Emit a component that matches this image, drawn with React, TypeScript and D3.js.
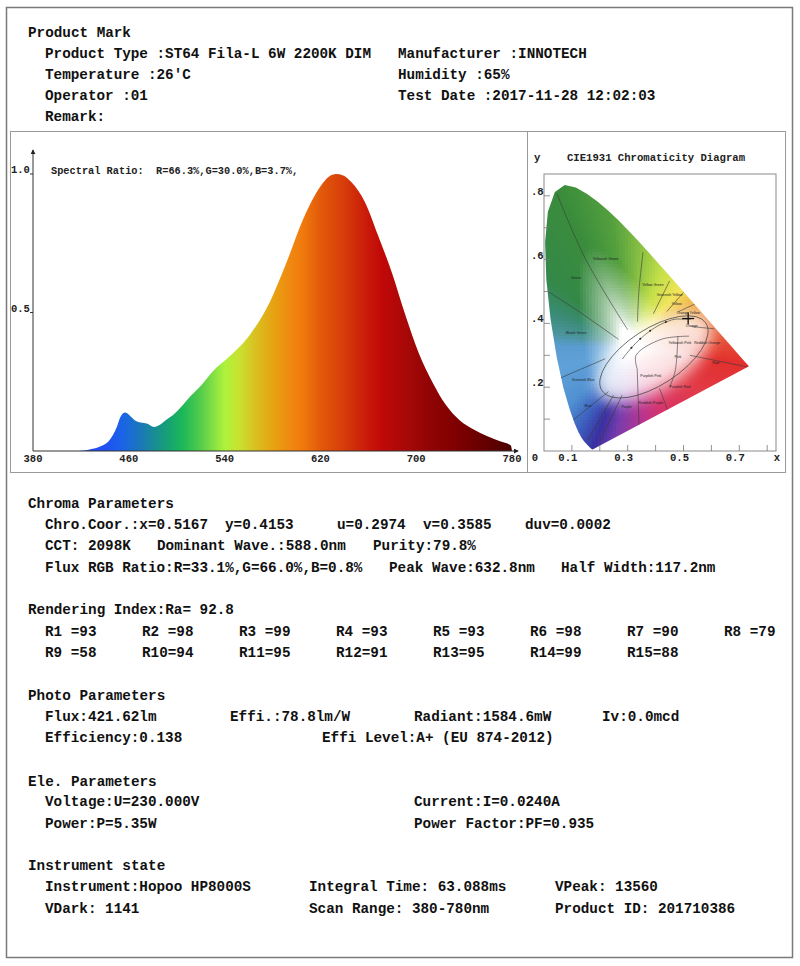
import React, { useMemo } from 'react';
import * as d3 from 'd3';

// ---------- spectrum data (relative intensity) ----------
const WAVELENGTHS = [380, 400, 418, 428, 436, 444, 450, 453, 457, 462, 466, 470, 475, 481, 486, 491, 497, 505, 512, 520, 530, 544, 561, 578, 592, 606, 620, 627, 633, 639, 646, 657, 668, 680, 691, 702, 714, 725, 736, 748, 759, 770, 779, 780];
const INTENSITY = [0, 0, 0, 0.006, 0.016, 0.04, 0.087, 0.123, 0.139, 0.123, 0.108, 0.103, 0.099, 0.087, 0.095, 0.112, 0.13, 0.165, 0.2, 0.235, 0.287, 0.341, 0.419, 0.54, 0.684, 0.841, 0.955, 0.99, 1.0, 0.995, 0.97, 0.9, 0.78, 0.64, 0.49, 0.355, 0.245, 0.165, 0.112, 0.078, 0.054, 0.035, 0.02, 0];
const X_TICKS = [380, 460, 540, 620, 700, 780];
const Y_TICKS = [0.5, 1.0];

const GRAD_WL = [380, 440, 455, 470, 480, 495, 505, 520, 540, 552, 565, 580, 595, 605, 620, 640, 660, 672, 690, 712, 735, 760, 780];
const GRAD_COLORS = ['#2a3cff', '#2050f4', '#1a64e6', '#1a78b8', '#188a98', '#16a66e', '#1cb858', '#54cc4c', '#aef23c', '#c8e230', '#d8c222', '#e6a412', '#f08810', '#f07a0e', '#e25a0a', '#d63c0a', '#c8180a', '#c00808', '#aa0808', '#900404', '#7e0000', '#620000', '#4a0000'];

// ---------- CIE 1931 data ----------
const LOCUS_X = [0.1741, 0.1714, 0.1644, 0.1566, 0.1440, 0.1355, 0.1241, 0.1096, 0.0913, 0.0687, 0.0454, 0.0235, 0.0082, 0.0039, 0.0139, 0.0389, 0.0743, 0.1142, 0.1547, 0.1929, 0.2296, 0.2658, 0.3016, 0.3373, 0.3731, 0.4087, 0.4441, 0.4788, 0.5125, 0.5448, 0.5752, 0.6029, 0.6270, 0.6658, 0.6915, 0.7190, 0.7300, 0.7347];
const LOCUS_Y = [0.0050, 0.0051, 0.0109, 0.0177, 0.0297, 0.0399, 0.0578, 0.0868, 0.1327, 0.2007, 0.2950, 0.4127, 0.5384, 0.6548, 0.7502, 0.8120, 0.8338, 0.8262, 0.8059, 0.7816, 0.7543, 0.7243, 0.6923, 0.6589, 0.6245, 0.5896, 0.5547, 0.5202, 0.4866, 0.4544, 0.4242, 0.3965, 0.3725, 0.3340, 0.3083, 0.2809, 0.2700, 0.2653];
const WHITE_POINT = [0.3127, 0.329];
// hue table of the diagram fill: angle (deg) around the white point -> colour
const HUE_ANGLES = [-180, -165, -140, -125, -113, -100, -80, -60, -30, -8, 10, 25, 45, 65, 80, 100, 118, 145, 160, 171, 180];
const HUE_COLORS = ['#5a9cd0', '#60a2d8', '#5090d2', '#3c5ebe', '#3a30a0', '#7a3cac', '#b8348e', '#d83468', '#e23a48', '#e2302e', '#e8643a', '#ee9a3c', '#f2e45a', '#c4e048', '#96c844', '#54a03e', '#3a8c3c', '#348848', '#3a8c78', '#4a9498', '#5a9cd0'];
const CIE_X_LABELS = [0.1, 0.3, 0.5, 0.7];
const CIE_Y_LABELS = [0.2, 0.4, 0.6, 0.8];
const CIE_TICKS = [0.1, 0.2, 0.3, 0.4, 0.5, 0.6, 0.7, 0.8];
const SAMPLE_XY = [0.5167, 0.4153];
const PLANCK_X = [0.2806, 0.3135, 0.3451, 0.3805, 0.4369, 0.4765, 0.5267];
const PLANCK_Y = [0.2883, 0.3237, 0.3516, 0.3768, 0.4041, 0.4137, 0.4133];
const KELLY_LINES: number[][][] = [
  [[0.046, 0.807], [0.15, 0.60], [0.30, 0.38]],
  [[0.355, 0.623], [0.34, 0.50], [0.335, 0.405]],
  [[0.45, 0.533], [0.392, 0.43]],
  [[0.50, 0.497], [0.44, 0.437]],
  [[0.554, 0.466], [0.48, 0.436]],
  [[0.61, 0.383], [0.53, 0.39]],
  [[0.002, 0.507], [0.12, 0.44], [0.267, 0.35]],
  [[0.054, 0.227], [0.219, 0.289]],
  [[0.097, 0.092], [0.231, 0.186]],
  [[0.158, 0.035], [0.249, 0.175]],
  [[0.2, 0.03], [0.28, 0.175]],
  [[0.341, 0.071], [0.334, 0.258]],
  [[0.45, 0.113], [0.414, 0.196]],
  [[0.523, 0.30], [0.737, 0.262]],
  [[0.334, 0.258], [0.33, 0.30], [0.42, 0.35], [0.52, 0.36]],
  [[0.48, 0.36], [0.47, 0.25], [0.45, 0.20]],
];
const KELLY_LABELS: [string, number, number][] = [
  ['Green', 0.115, 0.538], ['Yellowish Green', 0.22, 0.6], ['Yellow Green', 0.39, 0.517],
  ['Greenish Yellow', 0.45, 0.487], ['Yellow', 0.475, 0.457], ['Orange Yellow', 0.517, 0.43],
  ['Orange', 0.53, 0.388], ['Bluish Green', 0.115, 0.367], ['Yellowish Pink', 0.487, 0.336],
  ['Reddish Orange', 0.585, 0.336], ['Pink', 0.48, 0.29], ['Red', 0.615, 0.274],
  ['Greenish Blue', 0.14, 0.22], ['Purplish Pink', 0.383, 0.232], ['Purplish Red', 0.487, 0.198],
  ['Blue', 0.158, 0.139], ['Reddish Purple', 0.383, 0.147], ['Purple', 0.296, 0.136],
];

// ---------- report text ----------
const HEADER_ROWS: [string, string][] = [
  ['Product Type :ST64 Fila-L 6W 2200K DIM', 'Manufacturer :INNOTECH'],
  ["Temperature :26'C", 'Humidity :65%'],
  ['Operator :01', 'Test Date :2017-11-28 12:02:03'],
  ['Remark:', ''],
];
const CHROMA_ROW1 = ['Chro.Coor.:x=0.5167', 'y=0.4153', 'u=0.2974', 'v=0.3585', 'duv=0.0002'];
const CHROMA_ROW2 = ['CCT: 2098K', 'Dominant Wave.:588.0nm', 'Purity:79.8%'];
const CHROMA_ROW3 = ['Flux RGB Ratio:R=33.1%,G=66.0%,B=0.8%', 'Peak Wave:632.8nm', 'Half Width:117.2nm'];
const RA_VALUE = '92.8';
const R_VALUES = [93, 98, 99, 93, 93, 98, 90, 79, 58, 94, 95, 91, 95, 99, 88];
const PHOTO_ROW1 = ['Flux:421.62lm', 'Effi.:78.8lm/W', 'Radiant:1584.6mW', 'Iv:0.0mcd'];
const PHOTO_ROW2 = ['Efficiency:0.138', 'Effi Level:A+ (EU 874-2012)'];
const ELE_ROW1 = ['Voltage:U=230.000V', 'Current:I=0.0240A'];
const ELE_ROW2 = ['Power:P=5.35W', 'Power Factor:PF=0.935'];
const INST_ROW1 = ['Instrument:Hopoo HP8000S', 'Integral Time: 63.088ms', 'VPeak: 13560'];
const INST_ROW2 = ['VDark: 1141', 'Scan Range: 380-780nm', 'Product ID: 201710386'];
const SPECTRAL_RATIO = 'Spectral Ratio:  R=66.3%,G=30.0%,B=3.7%,';

const FONT = "'Liberation Mono', 'Courier New', monospace";

const hueInterp = (deg: number) => {
  let i = 0;
  while (i < HUE_ANGLES.length - 2 && deg > HUE_ANGLES[i + 1]) i++;
  const t = (deg - HUE_ANGLES[i]) / (HUE_ANGLES[i + 1] - HUE_ANGLES[i]);
  return d3.interpolateRgb(HUE_COLORS[i], HUE_COLORS[i + 1])(Math.max(0, Math.min(1, t)));
};

function edgeDistance(poly: number[][], ox: number, oy: number, dx: number, dy: number): number {
  let best = Infinity;
  for (let i = 0; i < poly.length; i++) {
    const [ax, ay] = poly[i];
    const [bx, by] = poly[(i + 1) % poly.length];
    const ex = bx - ax, ey = by - ay;
    const den = dx * ey - dy * ex;
    if (Math.abs(den) < 1e-12) continue;
    const s = ((ax - ox) * ey - (ay - oy) * ex) / den;
    const u = ((ax - ox) * dy - (ay - oy) * dx) / den;
    if (s > 0 && u >= 0 && u <= 1 && s < best) best = s;
  }
  return best;
}

function Row({ y, items, xs, size = 14.3 }: { y: number; items: string[]; xs: number[]; size?: number }) {
  return (
    <g>
      {items.map((t, i) => (
        <text key={i} x={xs[i]} y={y} fontFamily={FONT} fontWeight="bold" fontSize={size} fill="#111" style={{ whiteSpace: 'pre' }}>
          {t}
        </text>
      ))}
    </g>
  );
}

export default function App() {
  // spectrum scales
  const sx = d3.scaleLinear().domain([380, 780]).range([33, 512]);
  const sy = d3.scaleLinear().domain([0, 1]).range([451, 174]);
  const specData = WAVELENGTHS.map((w, i) => ({ w, v: INTENSITY[i] }));
  const area = d3.area<{ w: number; v: number }>()
    .x(d => sx(d.w)).y0(sy(0)).y1(d => sy(d.v)).curve(d3.curveMonotoneX);

  // CIE scales
  const cx = d3.scaleLinear().domain([0, 1]).range([544, 823]);
  const cy = d3.scaleLinear().domain([0, 1]).range([451, 132]);
  const locusXY = LOCUS_X.map((x, i) => [x, LOCUS_Y[i]]);
  const locus = locusXY.map(p => [cx(p[0]), cy(p[1])] as [number, number]);
  const locusPath = 'M' + locus.map(p => p.join(',')).join('L') + 'Z';

  const cells = useMemo(() => {
    const out: { x: number; y: number; c: string }[] = [];
    const step = 3;
    const [wx, wy] = WHITE_POINT;
    for (let px = 544; px < 752; px += step) {
      for (let py = 180; py < 452; py += step) {
        const xv = cx.invert(px + step / 2);
        const yv = cy.invert(py + step / 2);
        const inside = d3.polygonContains(locus, [px + step / 2, py + step / 2]) ||
          d3.polygonContains(locus, [px, py]) || d3.polygonContains(locus, [px + step, py + step]) ||
          d3.polygonContains(locus, [px + step, py]) || d3.polygonContains(locus, [px, py + step]);
        if (!inside) continue;
        const ddx = xv - wx, ddy = yv - wy;
        const d = Math.hypot(ddx, ddy) || 1e-6;
        const edge = edgeDistance(locusXY, wx, wy, ddx / d, ddy / d);
        const r = Math.min(1, d / edge);
        let t = Math.max(0, Math.min(1, (r - 0.12) / 0.5));
        t = Math.pow(t, 0.75);
        const deg = (Math.atan2(ddy, ddx) * 180) / Math.PI;
        const hue = hueInterp(deg);
        out.push({ x: px, y: py, c: d3.interpolateRgb('#ffffff', hue)(t) });
      }
    }
    return out;
  }, []);

  const line = d3.line<number[]>().x(d => cx(d[0])).y(d => cy(d[1])).curve(d3.curveCatmullRom);
  const planck = PLANCK_X.map((x, i) => [x, PLANCK_Y[i]]);

  const ellCx = cx(0.394), ellCy = cy(0.295);

  const rCols = [45, 142, 239, 336, 433, 530, 627, 724];

  return (
    <svg width={800} height={966} style={{ position: 'absolute', left: 0, top: 0, display: 'block', background: '#fff' }}>
      <defs>
        <linearGradient id="spec" gradientUnits="userSpaceOnUse" x1={sx(380)} x2={sx(780)} y1={0} y2={0}>
          {GRAD_WL.map((w, i) => (
            <stop key={i} offset={(w - 380) / 400} stopColor={GRAD_COLORS[i]} />
          ))}
        </linearGradient>
        <clipPath id="locusClip"><path d={locusPath} /></clipPath>
        <filter id="blur" x="-50%" y="-50%" width="200%" height="200%">
          <feGaussianBlur stdDeviation="8" />
        </filter>
        <marker id="arrow" viewBox="0 0 6 6" refX="5" refY="3" markerWidth="5" markerHeight="5" orient="auto">
          <path d="M0,0L6,3L0,6Z" fill="#222" />
        </marker>
      </defs>

      {/* outer frame */}
      <rect x={6.5} y={7.5} width={786} height={950} fill="none" stroke="#7a7a7a" strokeWidth={1.5} />

      {/* header */}
      <Row y={36.5} items={['Product Mark']} xs={[28]} />
      {HEADER_ROWS.map((r, i) => (
        <Row key={i} y={57.5 + i * 21.3} items={r} xs={[45, 398]} />
      ))}

      {/* chart panel */}
      <rect x={10.5} y={131.5} width={775} height={341} fill="none" stroke="#9a9a9a" strokeWidth={1} />
      <line x1={527.5} x2={527.5} y1={131.5} y2={472.5} stroke="#9a9a9a" strokeWidth={1} />

      {/* spectrum */}
      <path d={area(specData) || ''} fill="url(#spec)" />
      <line x1={sx(380)} x2={sx(380)} y1={sy(0)} y2={150} stroke="#333" strokeWidth={1} markerEnd="url(#arrow)" />
      <line x1={sx(380)} x2={518} y1={sy(0)} y2={sy(0)} stroke="#333" strokeWidth={1} markerEnd="url(#arrow)" />
      {Y_TICKS.map(t => (
        <g key={t}>
          <line x1={sx(380) - 3} x2={sx(380)} y1={sy(t)} y2={sy(t)} stroke="#333" />
          <text x={11} y={sy(t) - 1} fontFamily={FONT} fontWeight="bold" fontSize={10.5} fill="#222">{t.toFixed(1)}</text>
        </g>
      ))}
      {X_TICKS.map(t => (
        <text key={t} x={sx(t)} y={462} textAnchor="middle" fontFamily={FONT} fontWeight="bold" fontSize={10.5} fill="#222">{t}</text>
      ))}
      <text x={51} y={173.5} fontFamily={FONT} fontWeight="bold" fontSize={10.3} fill="#222" style={{ whiteSpace: 'pre' }}>{SPECTRAL_RATIO}</text>

      {/* CIE diagram */}
      <text x={534} y={161} fontFamily={FONT} fontWeight="bold" fontSize={10.6} fill="#222">y</text>
      <text x={656} y={161} textAnchor="middle" fontFamily={FONT} fontWeight="bold" fontSize={10.6} fill="#222">CIE1931 Chromaticity Diagram</text>
      <rect x={544} y={174} width={232} height={277} fill="#fff" stroke="#8a8a8a" strokeWidth={1} />
      <g clipPath="url(#locusClip)">
        {cells.map((c, i) => (
          <rect key={i} x={c.x} y={c.y} width={3.2} height={3.2} fill={c.c} shapeRendering="crispEdges" />
        ))}
        <ellipse cx={ellCx} cy={ellCy} rx={66} ry={32} transform={`rotate(-33 ${ellCx} ${ellCy})`} fill="#fff" opacity={0.8} filter="url(#blur)" />
        {KELLY_LINES.map((l, i) => (
          <path key={i} d={line(l) || ''} fill="none" stroke="#3a3a3a" strokeWidth={0.6} />
        ))}
        {KELLY_LABELS.map(([t, x, y], i) => (
          <text key={i} x={cx(x)} y={cy(y)} fontSize={3.6} fontFamily="Arial, sans-serif" fill="#222" textAnchor="middle">{t}</text>
        ))}
      </g>
      <ellipse cx={ellCx} cy={ellCy} rx={62} ry={28} transform={`rotate(-33 ${ellCx} ${ellCy})`} fill="none" stroke="#444" strokeWidth={0.7} />
      <path d={d3.line<number[]>().x(d => cx(d[0])).y(d => cy(d[1])).curve(d3.curveMonotoneX)(planck) || ''} fill="none" stroke="#333" strokeWidth={0.6} />
      {planck.slice(1, 5).map((p, i) => (
        <circle key={i} cx={cx(p[0])} cy={cy(p[1])} r={1} fill="#222" />
      ))}
      <g stroke="#111" strokeWidth={1.3}>
        <line x1={cx(SAMPLE_XY[0]) - 6} x2={cx(SAMPLE_XY[0]) + 6} y1={cy(SAMPLE_XY[1])} y2={cy(SAMPLE_XY[1])} />
        <line x1={cx(SAMPLE_XY[0])} x2={cx(SAMPLE_XY[0])} y1={cy(SAMPLE_XY[1]) - 6} y2={cy(SAMPLE_XY[1]) + 6} />
      </g>
      {CIE_TICKS.map(t => (
        <g key={t} stroke="#777" strokeWidth={0.8}>
          <line x1={cx(t)} x2={cx(t)} y1={451} y2={445} />
          <line x1={544} x2={550} y1={cy(t)} y2={cy(t)} />
        </g>
      ))}
      {CIE_X_LABELS.map(t => (
        <text key={t} x={cx(t) - 4} y={461} textAnchor="middle" fontFamily={FONT} fontWeight="bold" fontSize={10.6} fill="#222">{t.toFixed(1)}</text>
      ))}
      <text x={535} y={461} textAnchor="middle" fontFamily={FONT} fontWeight="bold" fontSize={10.6} fill="#222">0</text>
      <text x={777} y={461} textAnchor="middle" fontFamily={FONT} fontWeight="bold" fontSize={10.6} fill="#222">x</text>
      {CIE_Y_LABELS.map(t => (
        <text key={t} x={531} y={cy(t) - 1} fontFamily={FONT} fontWeight="bold" fontSize={10.6} fill="#222">{'.' + Math.round(t * 10)}</text>
      ))}

      {/* chroma */}
      <Row y={507.5} items={['Chroma Parameters']} xs={[28]} />
      <Row y={528.5} items={CHROMA_ROW1} xs={[45, 225, 337, 423, 525]} />
      <Row y={550} items={CHROMA_ROW2} xs={[45, 157, 373]} />
      <Row y={571.5} items={CHROMA_ROW3} xs={[45, 389, 561]} />

      {/* rendering */}
      <Row y={614} items={['Rendering Index:Ra= ' + RA_VALUE]} xs={[28]} />
      <Row y={636} items={R_VALUES.slice(0, 8).map((v, i) => `R${i + 1} =${v}`)} xs={rCols} />
      <Row y={657} items={R_VALUES.slice(8).map((v, i) => (i + 9 < 10 ? `R${i + 9} =${v}` : `R${i + 9}=${v}`))} xs={rCols} />

      {/* photo */}
      <Row y={700} items={['Photo Parameters']} xs={[28]} />
      <Row y={721} items={PHOTO_ROW1} xs={[45, 230, 414, 602]} />
      <Row y={742} items={PHOTO_ROW2} xs={[45, 322]} />

      {/* electrical */}
      <Row y={785.5} items={['Ele. Parameters']} xs={[28]} />
      <Row y={806} items={ELE_ROW1} xs={[45, 414]} />
      <Row y={827.5} items={ELE_ROW2} xs={[45, 414]} />

      {/* instrument */}
      <Row y={869.5} items={['Instrument state']} xs={[28]} />
      <Row y={891} items={INST_ROW1} xs={[45, 309, 555]} />
      <Row y={912.5} items={INST_ROW2} xs={[45, 309, 555]} />
    </svg>
  );
}
